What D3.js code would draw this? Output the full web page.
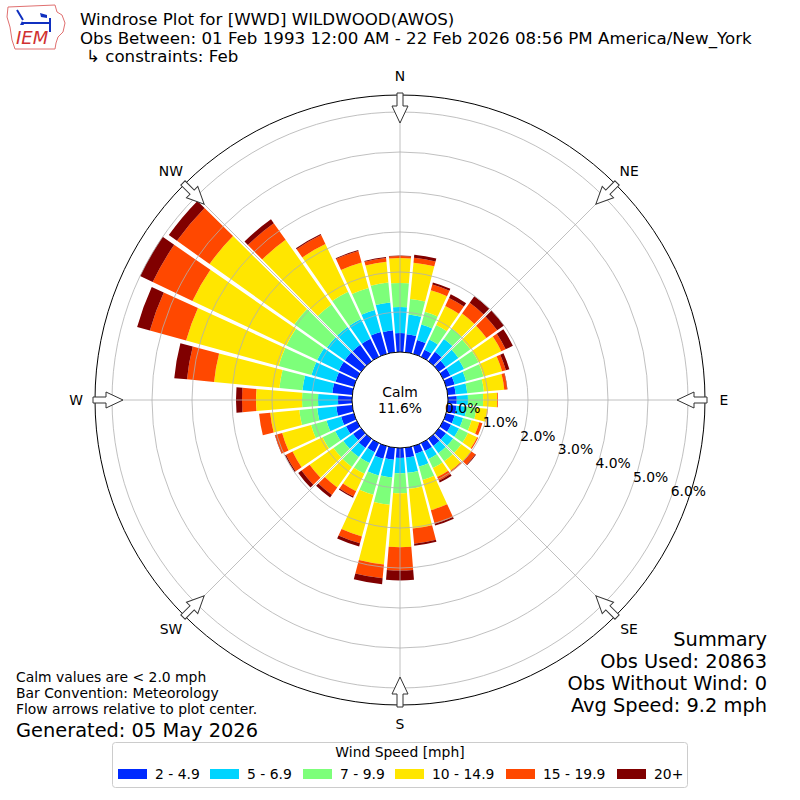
<!DOCTYPE html>
<html><head><meta charset="utf-8">
<script src="https://cdn.jsdelivr.net/npm/d3@7"></script>
<style>
body{margin:0;background:#fff}
svg{display:block}
text{font-family:"DejaVu Sans",sans-serif;fill:#000}
</style>
</head><body>
<svg id="c" width="800" height="800"></svg>
<script>
// ---------------- DATA ----------------
const directions = [0,10,20,30,40,50,60,70,80,90,100,110,120,130,140,150,160,170,
                    180,190,200,210,220,230,240,250,260,270,280,290,300,310,320,330,340,350];
const speedLabels = ["2 - 4.9","5 - 6.9","7 - 9.9","10 - 14.9","15 - 19.9","20+"];
// percent of observations per direction, per speed bin
const speed2to5   = [0.475,0.45,0.36,0.2,0.29,0.21,0.2,0.22,0.2,0.22,0.22,0.22,0.22,0.22,0.22,0.22,0.2,0.25,
                     0.25,0.3,0.33,0.25,0.28,0.25,0.3,0.33,0.4,0.35,0.5,0.475,0.5,0.5,0.5,0.5,0.57,0.55];
const speed5to7   = [0.65,0.5,0.4,0.28,0.39,0.39,0.38,0.3,0.29,0.28,0.25,0.22,0.22,0.22,0.22,0.22,0.33,0.38,
                     0.38,0.45,0.43,0.3,0.28,0.3,0.3,0.38,0.48,0.5,0.75,0.625,0.6,0.55,0.55,0.55,0.57,0.7];
const speed7to10  = [0.6,0.39,0.33,0.4,0.33,0.37,0.4,0.45,0.42,0.38,0.25,0.22,0.25,0.25,0.25,0.25,0.35,0.4,
                     0.5,0.68,0.5,0.3,0.3,0.3,0.35,0.4,0.45,0.4,0.58,0.85,0.85,1.0,0.69,0.75,0.57,0.5];
const speed10to15 = [0.625,0.91,0.56,0.53,0.45,0.49,0.63,0.48,0.51,0.35,0.28,0.2,0.25,0.3,0.28,0.25,0.78,1.0,
                     1.35,1.5,1.08,0.48,0.63,0.73,0.83,0.75,0.73,1.15,1.64,2.4,2.6,2.6,1.98,1.32,0.66,0.52];
const speed15to20 = [0.05,0.125,0.15,0.22,0.33,0.33,0.12,0.1,0.07,0.02,0.01,0.08,0.03,0.13,0.04,0.1,0.35,0.38,
                     0.58,0.35,0.18,0.15,0.23,0.25,0.18,0.18,0.28,0.35,0.68,0.94,1.1,1.0,0.51,0.25,0.3,0.1];
const speed20plus = [0.01,0.075,0.05,0.1,0.2,0.21,0.2,0.09,0.01,0,0,0,0,0.02,0,0.05,0.05,0.05,
                     0.25,0.15,0.08,0.03,0.08,0.1,0.03,0.01,0,0.15,0.32,0.33,0.35,0.25,0.12,0.03,0.02,0.02];
const rTickValues = [0,1,2,3,4,5,6];
const compassLabels = ["N","NE","E","SE","S","SW","W","NW"];
const compassAngles = [0,45,90,135,180,225,270,315];
const calmPercent = 11.6;
const titleLines = ["Windrose Plot for [WWD] WILDWOOD(AWOS)",
  "Obs Between: 01 Feb 1993 12:00 AM - 22 Feb 2026 08:56 PM America/New_York"];
const constraintLine = "\u21B3 constraints: Feb";
const noteLines = ["Calm values are < 2.0 mph","Bar Convention: Meteorology","Flow arrows relative to plot center."];
const generatedText = "Generated: 05 May 2026";
const summaryLines = ["Summary","Obs Used: 20863","Obs Without Wind: 0","Avg Speed: 9.2 mph"];

// ---------------- STYLE ----------------
const colors = ["#002aff","#00d4ff","#7dff7a","#ffe600","#ff4800","#800000"];
const keys = ["b0","b1","b2","b3","b4","b5"];
const cx = 400, cy = 400;
const fsSmall = 13.9, fsTitle = 16.67, fsBig = 19.4;

const svg = d3.select("#c");
const r = d3.scaleLinear().domain([0, 6]).range([48, 288]);
const rMax = r(6.425);
const ang = d3.scaleLinear().domain([0, 360]).range([0, 2 * Math.PI]);

const table = directions.map((d, i) => ({
  dir: d, b0: speed2to5[i], b1: speed5to7[i], b2: speed7to10[i],
  b3: speed10to15[i], b4: speed15to20[i], b5: speed20plus[i]
}));
const series = d3.stack().keys(keys)(table);

const g = svg.append("g").attr("transform", `translate(${cx},${cy})`);
const halfW = ang(4.6);
const arc = d3.arc()
  .innerRadius(d => r(d[0]))
  .outerRadius(d => r(d[1]))
  .startAngle(d => ang(d.data.dir) - halfW)
  .endAngle(d => ang(d.data.dir) + halfW)
  .padAngle(0.01).padRadius(100);

g.append("g").selectAll("g").data(series).join("g")
  .attr("fill", (d, i) => colors[i])
  .selectAll("path").data(d => d.filter(s => s[1] > s[0])).join("path")
  .attr("d", arc);

// grid (drawn above bars)
const grid = g.append("g").attr("stroke", "#b0b0b0").attr("stroke-width", 0.8).attr("fill", "none");
grid.selectAll("circle").data(rTickValues.filter(v => v > 0)).join("circle").attr("r", d => r(d));
grid.selectAll("line").data(compassAngles).join("line")
  .attr("x1", 0).attr("y1", 0)
  .attr("x2", d => rMax * Math.sin(ang(d)))
  .attr("y2", d => -rMax * Math.cos(ang(d)));

// outer circle
g.append("circle").attr("r", rMax).attr("fill", "none").attr("stroke", "#000").attr("stroke-width", 1);

// calm circle
g.append("circle").attr("r", r(0)).attr("fill", "#fff").attr("stroke", "#000").attr("stroke-width", 1);
g.append("text").attr("x", 0).attr("y", -3).attr("text-anchor", "middle").attr("font-size", fsSmall).text("Calm");
g.append("text").attr("x", 0).attr("y", 13).attr("text-anchor", "middle").attr("font-size", fsSmall).text(calmPercent.toFixed(1) + "%");

// radial tick labels
const labAng = ang(110);
g.selectAll("text.rl").data(rTickValues).join("text").attr("class", "rl")
  .attr("x", d => r(d) * Math.sin(labAng))
  .attr("y", d => -r(d) * Math.cos(labAng) - 3)
  .attr("font-size", fsSmall)
  .text(d => d.toFixed(1) + "%");

// flow arrows
const arrowPath = "M-3,-307 L3,-307 L3,-294 L8,-294 L0,-277 L-8,-294 L-3,-294 Z";
g.selectAll("path.arrow").data(compassAngles).join("path").attr("class", "arrow")
  .attr("d", arrowPath)
  .attr("transform", d => `rotate(${d})`)
  .attr("fill", "#fff").attr("stroke", "#333").attr("stroke-width", 1);

// compass labels
g.selectAll("text.cl").data(compassLabels).join("text").attr("class", "cl")
  .attr("x", (d, i) => 324 * Math.sin(ang(compassAngles[i])))
  .attr("y", (d, i) => -324 * Math.cos(ang(compassAngles[i])) + 5)
  .attr("text-anchor", "middle").attr("font-size", fsSmall)
  .text(d => d);

// titles
svg.selectAll("text.title").data(titleLines).join("text").attr("class", "title")
  .attr("x", 80).attr("y", (d, i) => 25 + i * 19)
  .attr("font-size", fsTitle).text(d => d);
svg.append("text").attr("x", 86).attr("y", 62).attr("font-size", fsTitle).text(constraintLine);

// notes
svg.selectAll("text.note").data(noteLines).join("text").attr("class", "note")
  .attr("x", 16).attr("y", (d, i) => 682 + i * 16)
  .attr("font-size", fsSmall).text(d => d);
svg.append("text").attr("x", 16).attr("y", 737).attr("font-size", fsBig).text(generatedText);

// summary
svg.selectAll("text.sum").data(summaryLines).join("text").attr("class", "sum")
  .attr("x", 767).attr("y", (d, i) => 646 + i * 22)
  .attr("text-anchor", "end").attr("font-size", fsBig).text(d => d);

// legend
const lg = svg.append("g");
lg.append("rect").attr("x", 112.5).attr("y", 742.5).attr("width", 575).attr("height", 45)
  .attr("rx", 3).attr("fill", "#fff").attr("stroke", "#cccccc").attr("stroke-width", 1);
lg.append("text").attr("x", 400).attr("y", 757).attr("text-anchor", "middle").attr("font-size", fsSmall).text("Wind Speed [mph]");
const legX = [118, 210, 303, 395, 506, 617];
speedLabels.forEach((s, i) => {
  lg.append("rect").attr("x", legX[i]).attr("y", 769).attr("width", 29).attr("height", 10).attr("fill", colors[i]);
  lg.append("text").attr("x", legX[i] + 37).attr("y", 779).attr("font-size", fsSmall).text(s);
});

// IEM logo (approximation)
const logo = svg.append("g");
logo.append("path")
  .attr("d", "M8,7 L55,5 L57,12 L62,15 L65,23 L63,32 L58,37 L56,43 L55,49 L15,49 L12,40 L10,27 L7,17 Z")
  .attr("fill", "none").attr("stroke", "#e07070").attr("stroke-width", 1);
logo.append("path").attr("d", "M22,23 L50,23 M17,10 L23,20 M50,18 L50,32")
  .attr("stroke", "#1030c0").attr("stroke-width", 2).attr("fill", "none");
logo.append("path").attr("d", "M40,13 L47,15 L47,18 L41,17 Z").attr("fill", "#1030c0");
logo.append("path").attr("d", "M20,25 L24,25 L22,21 Z").attr("fill", "#1030c0");
logo.append("text").attr("x", 16).attr("y", 44).attr("font-family", "Liberation Serif")
  .attr("font-style", "italic").attr("font-size", 18).style("fill", "#d03030").text("IEM");
</script>
</body></html>
